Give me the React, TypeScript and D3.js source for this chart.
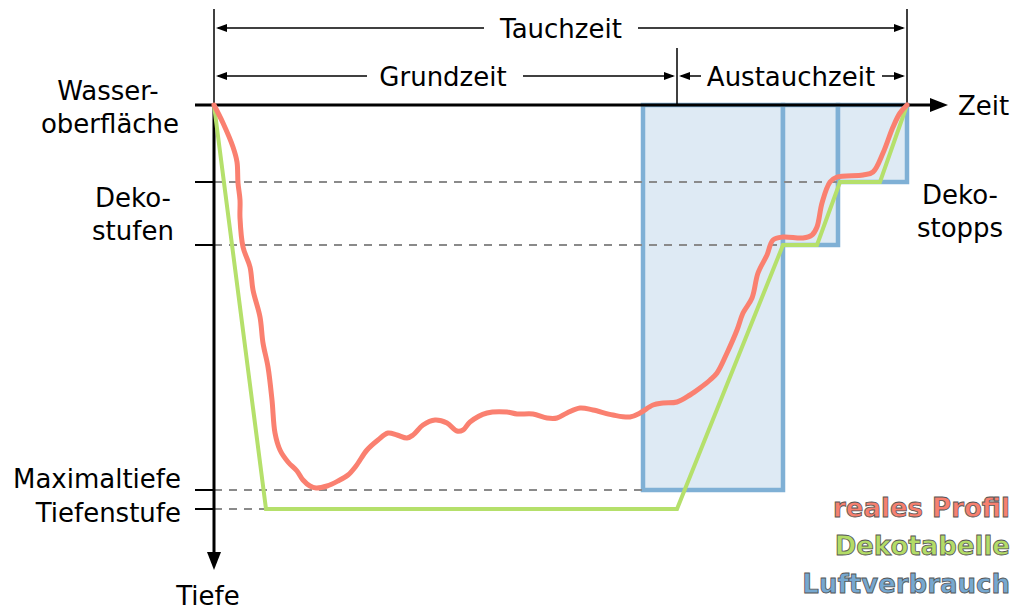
import React from "react";
import * as d3 from "d3";

// Time (t) and depth (d) in diagram units
const profileT = [0, 9, 19, 23, 24, 26, 26, 29, 36, 39, 46, 49, 54, 58, 61, 66, 74, 83, 89, 96, 102, 113, 124, 134, 142, 153, 164, 174, 183, 193, 199, 209, 221, 233, 243, 249, 256, 273, 293, 303, 319, 333, 343, 353, 366, 379, 399, 416, 426, 439, 449, 463, 476, 486, 496, 503, 513, 523, 529, 538, 544, 553, 559, 569, 589, 598, 603, 608, 616, 623, 649, 659, 669, 679, 686, 693];
const profileD = [0, 18, 42, 57, 78, 95, 113, 142, 162, 185, 212, 238, 262, 295, 328, 345, 357, 366, 375, 381, 383, 381, 376, 370, 361, 345, 335, 328, 330, 333, 330, 320, 315, 318, 326, 325, 317, 308, 307, 309, 309, 313, 313, 308, 303, 305, 310, 312, 308, 300, 298, 297, 290, 283, 275, 268, 248, 225, 208, 193, 168, 150, 135, 132, 133, 130, 122, 98, 77, 72, 70, 67, 48, 22, 8, 0];

const tableT = [0, 52, 463, 569, 603, 626, 666, 693];
const tableD = [0, 404, 404, 140, 140, 77, 77, 0];

// Air consumption blocks: [tStart, tEnd, depth]
const airStart = [429, 569, 624];
const airEnd = [569, 624, 693];
const airDepth = [385, 140, 77];

// Reference depth levels
const levelNames = ["Deko1", "Deko2", "Maximaltiefe", "Tiefenstufe"];
const levelDepth = [77, 140, 385, 404];
const levelEndT = [624, 569, 429, 52];

// Time marks
const tStartDive = 0;
const tEndBottom = 463;
const tEndDive = 693;

const legendLabels = ["reales Profil", "Dekotabelle", "Luftverbrauch"];
const legendColors = ["#f7806f", "#b3dc67", "#76a8d0"];

const FONT = "DejaVu Sans, Verdana, sans-serif";

export default function App() {
  const x = d3.scaleLinear().domain([0, 693]).range([214, 907]);
  const y = d3.scaleLinear().domain([0, 404]).range([105, 509]);

  const profile = profileT.map((t, i) => [t, profileD[i]] as [number, number]);
  const table = tableT.map((t, i) => [t, tableD[i]] as [number, number]);

  const smooth = d3
    .line<[number, number]>()
    .x((p) => x(p[0]))
    .y((p) => y(p[1]))
    .curve(d3.curveCatmullRom.alpha(0.5));
  const straight = d3
    .line<[number, number]>()
    .x((p) => x(p[0]))
    .y((p) => y(p[1]));

  const x0 = x(0);
  const y0 = y(0);

  const arrowL = (tipX: number, yy: number) =>
    `M${tipX},${yy} L${tipX + 11},${yy - 4} L${tipX + 11},${yy + 4} Z`;
  const arrowR = (tipX: number, yy: number) =>
    `M${tipX},${yy} L${tipX - 11},${yy - 4} L${tipX - 11},${yy + 4} Z`;

  const yT = 28;
  const yG = 76;

  return (
    <svg
      width={1024}
      height={616}
      style={{ position: "absolute", left: 0, top: 0, background: "#fff" }}
      fontFamily={FONT}
    >
      {/* air consumption blocks */}
      {airStart.map((s, i) => (
        <rect
          key={"air" + i}
          x={x(s)}
          y={y0}
          width={x(airEnd[i]) - x(s)}
          height={y(airDepth[i]) - y0}
          fill="#deeaf4"
          stroke="#7fb0d5"
          strokeWidth={4.5}
        />
      ))}

      {/* dashed reference lines */}
      {levelNames.map((n, i) => (
        <line
          key={n}
          x1={x0}
          x2={x(levelEndT[i])}
          y1={y(levelDepth[i])}
          y2={y(levelDepth[i])}
          stroke="#8a8a8a"
          strokeWidth={2}
          strokeDasharray="8,7"
        />
      ))}

      {/* ticks */}
      {levelDepth.map((d, i) => (
        <line key={"tk" + i} x1={195} x2={x0} y1={y(d)} y2={y(d)} stroke="#000" strokeWidth={2} />
      ))}

      {/* axes */}
      <line x1={195} x2={934} y1={y0} y2={y0} stroke="#000" strokeWidth={3} />
      <path d={`M948,${y0} L930,${y0 - 7} L930,${y0 + 7} Z`} fill="#000" />
      <line x1={x0} x2={x0} y1={y0} y2={556} stroke="#000" strokeWidth={3} />
      <path d={`M${x0},570 L${x0 - 7},552 L${x0 + 7},552 Z`} fill="#000" />

      {/* dimension extension lines */}
      <line x1={x(tStartDive)} x2={x(tStartDive)} y1={9} y2={y0} stroke="#000" strokeWidth={1.5} />
      <line x1={x(tEndDive)} x2={x(tEndDive)} y1={9} y2={y0} stroke="#000" strokeWidth={1.5} />
      <line x1={x(tEndBottom)} x2={x(tEndBottom)} y1={48} y2={y0} stroke="#000" strokeWidth={1.5} />

      {/* Tauchzeit */}
      <line x1={x(tStartDive) + 4} x2={484} y1={yT} y2={yT} stroke="#000" strokeWidth={1.5} />
      <line x1={638} x2={x(tEndDive) - 4} y1={yT} y2={yT} stroke="#000" strokeWidth={1.5} />
      <path d={arrowL(x(tStartDive) + 2, yT)} fill="#000" />
      <path d={arrowR(x(tEndDive) - 2, yT)} fill="#000" />
      <text x={561} y={38} textAnchor="middle" fontSize={26} fill="#000">Tauchzeit</text>

      {/* Grundzeit */}
      <line x1={x(tStartDive) + 4} x2={367} y1={yG} y2={yG} stroke="#000" strokeWidth={1.5} />
      <line x1={523} x2={x(tEndBottom) - 4} y1={yG} y2={yG} stroke="#000" strokeWidth={1.5} />
      <path d={arrowL(x(tStartDive) + 2, yG)} fill="#000" />
      <path d={arrowR(x(tEndBottom) - 2, yG)} fill="#000" />
      <text x={443} y={86} textAnchor="middle" fontSize={26} fill="#000">Grundzeit</text>

      {/* Austauchzeit */}
      <line x1={x(tEndBottom) + 4} x2={701} y1={yG} y2={yG} stroke="#000" strokeWidth={1.5} />
      <line x1={882} x2={x(tEndDive) - 4} y1={yG} y2={yG} stroke="#000" strokeWidth={1.5} />
      <path d={arrowL(x(tEndBottom) + 2, yG)} fill="#000" />
      <path d={arrowR(x(tEndDive) - 2, yG)} fill="#000" />
      <text x={791} y={86} textAnchor="middle" fontSize={26} fill="#000">Austauchzeit</text>

      {/* lines */}
      <path d={straight(table) || ""} fill="none" stroke="#b5e06b" strokeWidth={4} strokeLinejoin="miter" />
      <path d={smooth(profile) || ""} fill="none" stroke="#fa8070" strokeWidth={5} strokeLinejoin="round" strokeLinecap="round" />

      {/* axis labels */}
      <text x={958} y={115} fontSize={26} fill="#000">Zeit</text>
      <text x={208} y={605} textAnchor="middle" fontSize={26} fill="#000">Tiefe</text>

      <text x={108} y={100} textAnchor="middle" fontSize={26} fill="#000">Wasser-</text>
      <text x={110} y={133} textAnchor="middle" fontSize={26} fill="#000">oberfläche</text>
      <text x={133} y={207} textAnchor="middle" fontSize={26} fill="#000">Deko-</text>
      <text x={133} y={240} textAnchor="middle" fontSize={26} fill="#000">stufen</text>
      <text x={181} y={488} textAnchor="end" fontSize={26} fill="#000">Maximaltiefe</text>
      <text x={181} y={522} textAnchor="end" fontSize={26} fill="#000">Tiefenstufe</text>
      <text x={960} y={204} textAnchor="middle" fontSize={26} fill="#000">Deko-</text>
      <text x={960} y={237} textAnchor="middle" fontSize={26} fill="#000">stopps</text>

      {/* legend */}
      {legendLabels.map((l, i) => (
        <text
          key={l}
          x={1010}
          y={517 + i * 38}
          textAnchor="end"
          fontSize={26}
          fontWeight="bold"
          fill={legendColors[i]}
          stroke="#555"
          strokeWidth={0.8}
        >
          {l}
        </text>
      ))}
    </svg>
  );
}
